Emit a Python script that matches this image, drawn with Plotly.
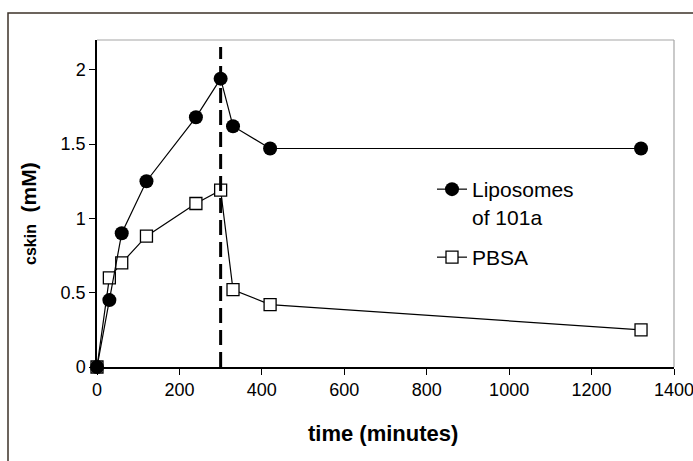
import plotly.graph_objects as go

# ---- data ----
time_min = [0, 30, 60, 120, 240, 300, 330, 420, 1320]
liposomes_101a = [0, 0.45, 0.90, 1.25, 1.68, 1.94, 1.62, 1.47, 1.47]
pbsa = [0, 0.60, 0.70, 0.88, 1.10, 1.19, 0.52, 0.42, 0.25]
dose_end_time = 300
x_ticks = [0, 200, 400, 600, 800, 1000, 1200, 1400]
y_ticks = [0, 0.5, 1, 1.5, 2]
y_tick_text = ["0", "0.5", "1", "1.5", "2"]

FONT = "Arial, Liberation Sans, sans-serif"

# plot area in pixels (693x461 canvas)
L, R, T, B = 97, 674, 40, 367
W, H = R - L, B - T

def px(xp):
    return (xp - L) / W

def py(yp):
    return (B - yp) / H

fig = go.Figure()

fig.add_trace(go.Scatter(
    x=time_min, y=pbsa, mode="lines+markers", name="PBSA",
    line=dict(color="black", width=1.2),
    marker=dict(symbol="square", size=12, color="white",
                line=dict(color="black", width=1.3)),
    legend="legend2", cliponaxis=False,
))
fig.add_trace(go.Scatter(
    x=time_min, y=liposomes_101a, mode="lines+markers",
    name="Liposomes<br>of 101a",
    line=dict(color="black", width=1.2),
    marker=dict(symbol="circle", size=14, color="black",
                line=dict(color="black", width=0)),
    legend="legend", cliponaxis=False,
))

shapes = [
    # outer chart frame (cut on right/bottom)
    dict(type="rect", xref="paper", yref="paper",
         x0=px(8), x1=px(720), y0=py(490), y1=py(13),
         line=dict(color="#3c3229", width=1.5), layer="below"),
    # top and right plot borders in grey
    dict(type="line", xref="paper", yref="paper", x0=0, x1=1, y0=1, y1=1,
         line=dict(color="#a6a6a6", width=1.2)),
    dict(type="line", xref="paper", yref="paper", x0=1, x1=1, y0=0, y1=1,
         line=dict(color="#a6a6a6", width=1.2)),
    # dashed vertical line at end of dosing
    dict(type="line", xref="x", yref="paper", x0=dose_end_time, x1=dose_end_time,
         y0=0, y1=py(47), line=dict(color="black", width=3, dash="15px,7px")),
]

annotations = [
    dict(text="<b><span style='font-size:16px'>cskin</span>  (mM)</b>",
         xref="paper", yref="paper",
         x=px(29), y=py(214), xanchor="center", yanchor="middle",
         textangle=-90, showarrow=False,
         font=dict(family=FONT, size=21, color="black")),
    dict(text="<b>time (minutes)</b>", xref="paper", yref="paper",
         x=px(383), y=py(433), xanchor="center", yanchor="middle",
         showarrow=False, font=dict(family=FONT, size=22, color="black")),
]

fig.update_layout(
    width=693, height=461, autosize=False,
    margin=dict(l=L, r=693 - R, t=T, b=461 - B, pad=0, autoexpand=False),
    paper_bgcolor="white", plot_bgcolor="white",
    font=dict(family=FONT, size=18, color="black"),
    showlegend=True,
    legend=dict(x=px(432), y=py(169), xanchor="left", yanchor="top",
                bgcolor="rgba(0,0,0,0)", font=dict(family=FONT, size=21, color="black"),
                valign="top", itemclick=False),
    legend2=dict(x=px(432), y=py(237), xanchor="left", yanchor="top",
                 bgcolor="rgba(0,0,0,0)", font=dict(family=FONT, size=21, color="black"),
                 itemclick=False),
    shapes=shapes,
    annotations=annotations,
    xaxis=dict(range=[0, 1400], tickvals=x_ticks, ticks="outside", ticklen=6,
               tickcolor="black", tickwidth=1.2, showline=True, linecolor="black",
               linewidth=1.5, showgrid=False, zeroline=False, automargin=False,
               ticklabeloverflow="allow",
               tickfont=dict(family=FONT, size=18, color="black")),
    yaxis=dict(range=[0, 2.2], tickvals=y_ticks, ticktext=y_tick_text,
               ticks="outside", ticklen=6, tickcolor="black", tickwidth=1.2,
               showline=True, linecolor="black", linewidth=1.5, automargin=False,
               showgrid=False, zeroline=False,
               tickfont=dict(family=FONT, size=18, color="black")),
)

fig.write_html("out.html", config={"displayModeBar": False},
               post_script="document.body.style.margin='0';document.body.style.overflow='hidden';")
